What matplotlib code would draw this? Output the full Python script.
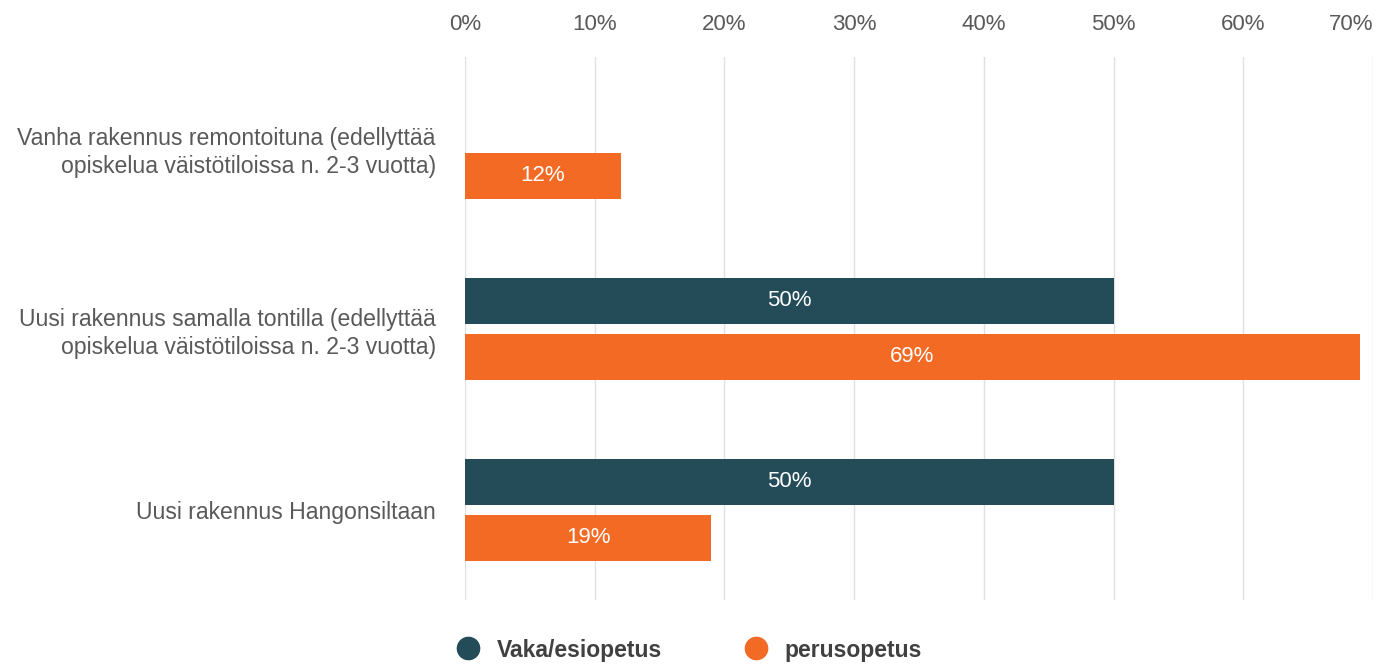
import matplotlib.pyplot as plt
import matplotlib as mpl
from matplotlib.lines import Line2D
from matplotlib.ticker import FuncFormatter

mpl.rcParams['font.family'] = ['Liberation Sans', 'DejaVu Sans']

# === data ===
categories = [
    'Vanha rakennus remontoituna (edellyttää\nopiskelua väistötiloissa n. 2-3 vuotta)',
    'Uusi rakennus samalla tontilla (edellyttää\nopiskelua väistötiloissa n. 2-3 vuotta)',
    'Uusi rakennus Hangonsiltaan',
]
series_names = ['Vaka/esiopetus', 'perusopetus']
vaka = [None, 50, 50]
perus = [12, 69, 19]
x_ticks = [0, 10, 20, 30, 40, 50, 60, 70]

C_VAKA = '#234B58'
C_PERUS = '#F26A24'
C_TEXT = '#595959'

fig = plt.figure(figsize=(13.87, 6.64), dpi=100)
ax = fig.add_axes([465/1387, 1 - 600/664, (1373 - 465)/1387, 543/664])

h = 46/181
off = 28/181
for i, (v, p) in enumerate(zip(vaka, perus)):
    if v is not None:
        ax.barh(i - off, v, height=h, color=C_VAKA, zorder=3)
        ax.text(v/2, i - off, f'{v}%', color='white', ha='center', va='center', fontsize=16, zorder=4)
    if p is not None:
        ax.barh(i + off, p, height=h, color=C_PERUS, zorder=3)
        ax.text(p/2, i + off, f'{p}%', color='white', ha='center', va='center', fontsize=16, zorder=4)

ax.set_xlim(0, 70)
ax.set_ylim(2.5, -0.5)
ax.set_xticks(x_ticks)
ax.xaxis.set_major_formatter(FuncFormatter(lambda x, _: f'{x:.0f}%'))
ax.xaxis.tick_top()
ax.set_yticks(range(len(categories)))
ax.set_yticklabels(categories, ha='right', multialignment='right', linespacing=1.3)
ax.tick_params(axis='x', length=0, labelsize=16, colors=C_TEXT, pad=16)
ax.tick_params(axis='y', length=0, labelsize=16.6, colors=C_TEXT, pad=21)
ax.get_xticklabels()[-1].set_horizontalalignment('right')
for s in ax.spines.values():
    s.set_visible(False)
ax.grid(axis='x', color='#E0E0E0', linewidth=1, zorder=0)
ax.axvline(0, color='#D5DCE8', linewidth=1.2, zorder=1)

handles = [Line2D([], [], marker='o', linestyle='', markersize=16, color=c)
           for c in (C_VAKA, C_PERUS)]
leg = fig.legend(handles, series_names, loc='center left',
                 bbox_to_anchor=(436/1387, 1 - 650/664), ncol=2, frameon=False,
                 handletextpad=0.75, columnspacing=3.6, handlelength=1.0,
                 prop={'size': 16.5, 'weight': 'bold'})
for t in leg.get_texts():
    t.set_color('#404040')

plt.savefig('out.png', dpi=100)
plt.close()
